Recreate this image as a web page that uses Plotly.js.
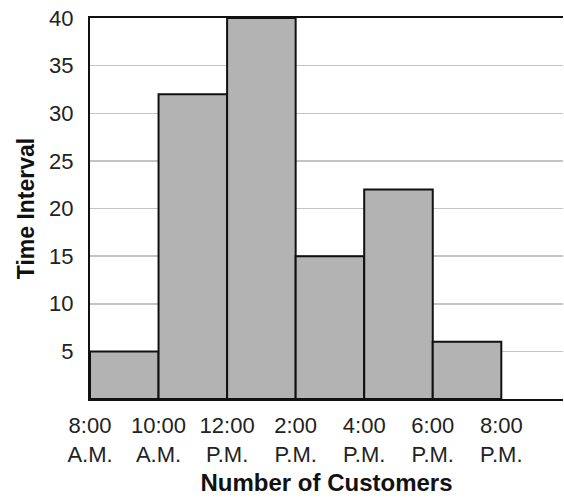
<!DOCTYPE html>
<html>
<head>
<meta charset="utf-8">
<script src="https://cdn.plot.ly/plotly-3.0.1.min.js"></script>
<style>html,body{margin:0;padding:0;background:#fff;}#chart{width:564px;height:502px;}</style>
</head>
<body>
<div id="chart"></div>
<script>
// Bin labels (start of each 2-hour interval)
var binLabels = ["8:00 A.M.", "10:00 A.M.", "12:00 P.M.", "2:00 P.M.", "4:00 P.M.", "6:00 P.M."];
var counts = [5, 32, 40, 15, 22, 6];
var edgeLabels = ["8:00<br>A.M.", "10:00<br>A.M.", "12:00<br>P.M.", "2:00<br>P.M.", "4:00<br>P.M.", "6:00<br>P.M.", "8:00<br>P.M."];
var yTicks = [5, 10, 15, 20, 25, 30, 35, 40];

var binCenters = binLabels.map(function (_, i) { return i + 0.5; });
var edgePositions = edgeLabels.map(function (_, i) { return i; });

var trace = {
  type: "bar",
  x: binCenters,
  y: counts,
  width: 1,
  text: binLabels,
  hoverinfo: "text+y",
  textposition: "none",
  marker: { color: "#b3b3b3", line: { color: "#111", width: 2 } }
};

var font = "Liberation Sans, Arial, Helvetica, sans-serif";
var layout = {
  width: 564,
  height: 502,
  margin: { l: 90, r: 1, t: 18, b: 103 },
  paper_bgcolor: "#fff",
  plot_bgcolor: "#fff",
  showlegend: false,
  bargap: 0,
  font: { family: font, color: "#222", size: 22 },
  xaxis: {
    range: [0, 6.9],
    tickvals: edgePositions,
    ticktext: edgeLabels,
    tickfont: { size: 22, family: font, color: "#222" },
    ticks: "outside",
    ticklen: 6,
    tickcolor: "rgba(0,0,0,0)",
    showgrid: false,
    zeroline: false,
    showline: true,
    linecolor: "#111",
    linewidth: 2,
    mirror: true,
    title: { text: "<b>Number of Customers</b>", font: { size: 24, family: font, color: "#111" }, standoff: 8 }
  },
  yaxis: {
    range: [0, 40],
    tickvals: yTicks,
    ticktext: yTicks.map(String),
    tickfont: { size: 22, family: font, color: "#222" },
    ticks: "outside",
    ticklen: 10,
    tickcolor: "rgba(0,0,0,0)",
    showgrid: true,
    gridcolor: "#c4c4c4",
    gridwidth: 1.5,
    zeroline: false,
    showline: true,
    linecolor: "#111",
    linewidth: 2,
    title: { text: "<b>Time Interval</b>", font: { size: 23, family: font, color: "#111" }, standoff: 8 }
  }
};

Plotly.newPlot("chart", [trace], layout, { displayModeBar: false, staticPlot: true });
</script>
</body>
</html>
